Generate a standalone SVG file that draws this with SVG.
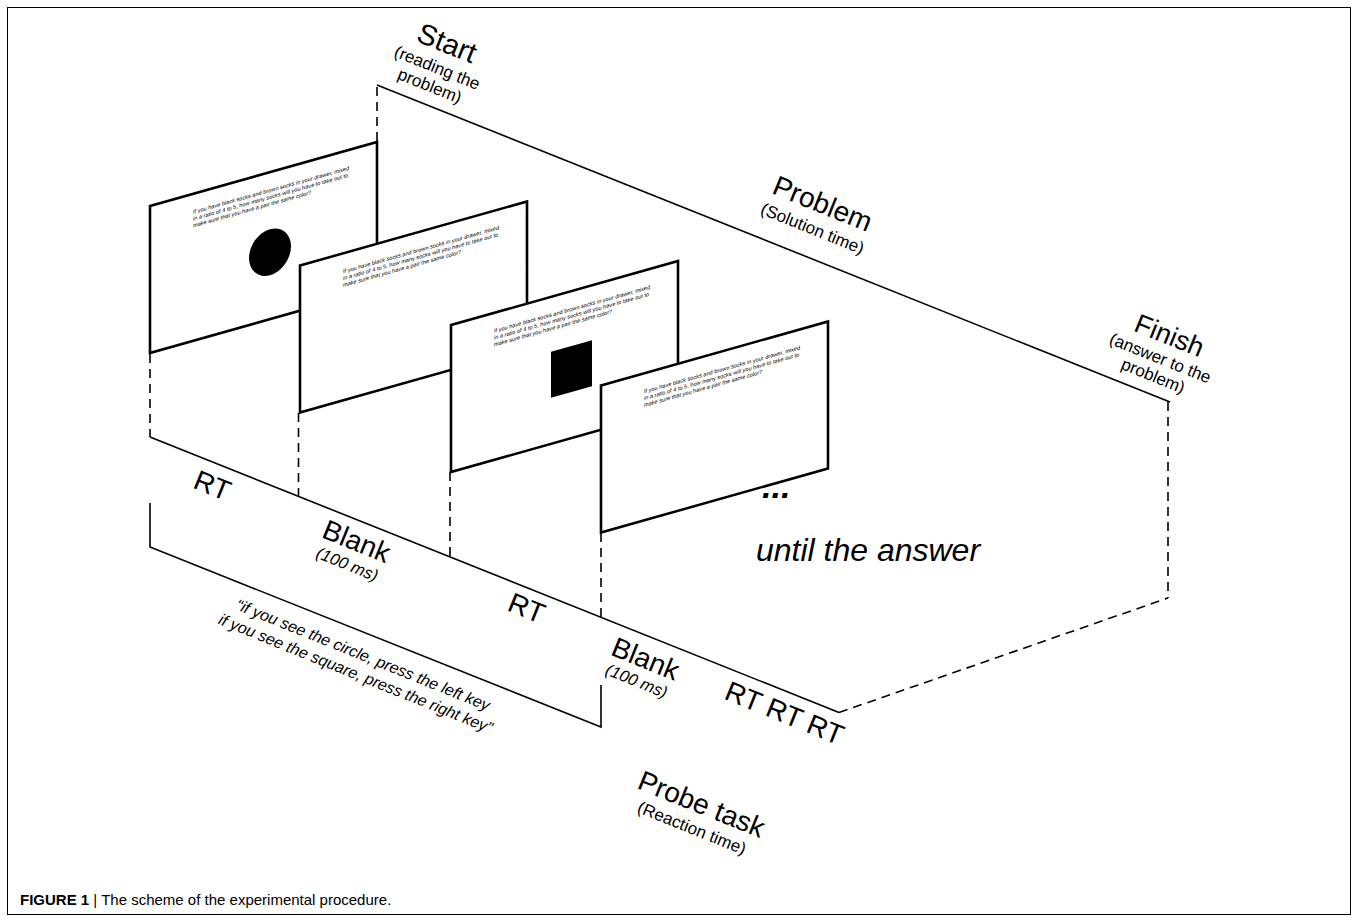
<svg xmlns="http://www.w3.org/2000/svg" width="1358" height="922" viewBox="0 0 1358 922">
<style>
.ln{stroke:#000;stroke-width:1.6;fill:none}
.ds{stroke:#000;stroke-width:1.6;fill:none;stroke-dasharray:9 6}
.pn{fill:#fff;stroke:#000;stroke-width:2.6}
.t{font-family:"Liberation Sans",Arial,sans-serif;fill:#000}
.big{font-size:28px;text-anchor:middle}
.sub{font-size:17px;text-anchor:middle}
.it{font-style:italic}
.pt{font-family:"Liberation Sans",Arial,sans-serif;font-size:5.6px;fill:#000}
</style>
<rect x="0" y="0" width="1358" height="922" fill="#fff"/>
<rect x="7.5" y="7.5" width="1343" height="907" fill="none" stroke="#000" stroke-width="1"/>

<g id="connectors">
  <line class="ln" x1="377" y1="85" x2="1170" y2="402"/>
  <line class="ln" x1="150" y1="437" x2="839" y2="712.5"/>
  <polyline class="ln" points="150,503 150,547 601,727 601,685"/>
  <line class="ds" x1="377" y1="87" x2="377" y2="142"/>
  <line class="ds" x1="150" y1="354" x2="150" y2="437"/>
  <line class="ds" x1="298.5" y1="413" x2="298.5" y2="496"/>
  <line class="ds" x1="450" y1="472" x2="450" y2="557"/>
  <line class="ds" x1="601" y1="533" x2="601" y2="617"/>
  <line class="ds" x1="1168" y1="402" x2="1168" y2="598"/>
  <line class="ds" x1="839" y1="712.5" x2="1168" y2="598"/>
</g>

<g id="panel1" transform="matrix(1,-0.282,0,1,150,206)">
  <rect class="pn" x="0" y="0" width="227" height="147"/>
  <text class="pt"><tspan x="43" y="20">If you have black socks and brown socks in your drawer, mixed</tspan><tspan x="43" y="26.8">in a ratio of 4 to 5, how many socks will you have to take out to</tspan><tspan x="43" y="33.6">make sure that you have a pair the same color?</tspan></text>
  <ellipse cx="120" cy="80" rx="21" ry="23" fill="#000"/>
</g>
<g id="panel2" transform="matrix(1,-0.282,0,1,300,265.5)">
  <rect class="pn" x="0" y="0" width="227" height="147"/>
  <text class="pt"><tspan x="43" y="20">If you have black socks and brown socks in your drawer, mixed</tspan><tspan x="43" y="26.8">in a ratio of 4 to 5, how many socks will you have to take out to</tspan><tspan x="43" y="33.6">make sure that you have a pair the same color?</tspan></text>
</g>
<g id="panel3" transform="matrix(1,-0.282,0,1,451,325)">
  <rect class="pn" x="0" y="0" width="227" height="147"/>
  <text class="pt"><tspan x="43" y="20">If you have black socks and brown socks in your drawer, mixed</tspan><tspan x="43" y="26.8">in a ratio of 4 to 5, how many socks will you have to take out to</tspan><tspan x="43" y="33.6">make sure that you have a pair the same color?</tspan></text>
  <rect x="100" y="55" width="41" height="46" fill="#000"/>
</g>
<g id="panel4" transform="matrix(1,-0.282,0,1,601,385.5)">
  <rect class="pn" x="0" y="0" width="227" height="147"/>
  <text class="pt"><tspan x="43" y="20">If you have black socks and brown socks in your drawer, mixed</tspan><tspan x="43" y="26.8">in a ratio of 4 to 5, how many socks will you have to take out to</tspan><tspan x="43" y="33.6">make sure that you have a pair the same color?</tspan></text>
</g>

<g id="label-start" transform="translate(435,73) rotate(22)">
  <text class="t" x="0" y="-22.5" style="font-size:29px;text-anchor:middle">Start</text>
  <text class="t sub" x="0" y="0">(reading the</text>
  <text class="t sub" x="0" y="19.5">problem)</text>
</g>
<g id="label-problem" transform="translate(819,212.5) rotate(22)">
  <text class="t big" x="0" y="0">Problem</text>
  <text class="t sub" x="0" y="23">(Solution time)</text>
</g>
<g id="label-finish" transform="translate(1166,344) rotate(22)">
  <text class="t" x="0" y="0" style="font-size:27px;text-anchor:middle">Finish</text>
  <text class="t sub" x="0" y="21">(answer to the</text>
  <text class="t sub" x="0" y="40">problem)</text>
</g>
<g id="label-rt1" transform="translate(208.7,494.3) rotate(22)">
  <text class="t big" x="0" y="0">RT</text>
</g>
<g id="label-blank1" transform="translate(353,550) rotate(22)">
  <text class="t big" x="0" y="0">Blank</text>
  <text class="t sub it" x="0" y="21" style="font-size:16.5px">(100 ms)</text>
</g>
<g id="label-rt2" transform="translate(523,617) rotate(22)">
  <text class="t big" x="0" y="0">RT</text>
</g>
<g id="label-blank2" transform="translate(642,667.6) rotate(22)">
  <text class="t big" x="0" y="0">Blank</text>
  <text class="t sub it" x="0" y="20" style="font-size:16.5px">(100 ms)</text>
</g>
<g id="label-rt3" transform="translate(781,722) rotate(22)">
  <text class="t big" x="0" y="0">RT RT RT</text>
</g>
<g id="label-instruction" transform="translate(361,660) rotate(22)">
  <text class="t it" x="0" y="0" style="font-size:16px;text-anchor:middle">“if you see the circle, press the left key</text>
  <text class="t it" x="0" y="20" style="font-size:16px;text-anchor:middle">if you see the square, press the right key”</text>
</g>
<g id="label-until">
  <text class="t it" x="762" y="498" style="font-size:34px;font-weight:bold">...</text>
  <text class="t it" x="868" y="561" style="font-size:32px;text-anchor:middle">until the answer</text>
</g>
<g id="label-probe" transform="translate(698,813) rotate(22)">
  <text class="t big" x="0" y="0">Probe task</text>
  <text class="t sub" x="0" y="22">(Reaction time)</text>
</g>

<text class="t" x="20" y="905" style="font-size:15px"><tspan font-weight="bold">FIGURE 1</tspan> | The scheme of the experimental procedure.</text>
</svg>
